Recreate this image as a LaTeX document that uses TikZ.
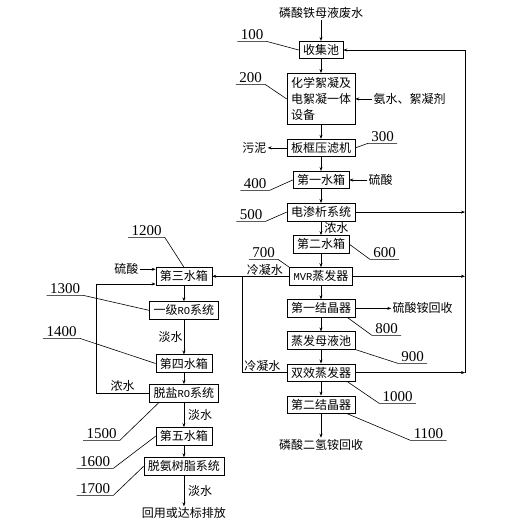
\documentclass[tikz,border=0pt]{standalone}
\usepackage{fontspec}
\setmainfont{Liberation Serif}
\setmonofont{Liberation Mono}
\newfontfamily\zh{Noto Sans CJK SC}
\usetikzlibrary{arrows.meta,positioning}
\newcommand\ltn[1]{{\ttfamily\fontsize{10.5}{12}\selectfont #1}}

\begin{document}
\begin{tikzpicture}[
  x=1pt, y=1pt,
  node distance=14pt,
  >={Stealth[length=4pt,width=3pt]},
  line width=0.6pt,
  box/.style={rectangle, draw=black, align=center, minimum height=17.5pt, inner xsep=4pt, inner ysep=2pt, font=\zh\fontsize{12}{16}\selectfont},
  txt/.style={inner sep=1pt, font=\zh\fontsize{12}{16}\selectfont},
  tag/.style={inner xsep=3pt, inner ysep=1pt, font=\fontsize{15}{16}\selectfont},
]
\useasboundingbox (0,0) rectangle (520,-523);
% main line
\node[box] (c100) at (321,-50) {收集池};
\node[box, below=of c100, align=left, inner ysep=4pt] (c200) {化学絮凝及\\电絮凝一体\\设备};
\node[box, below=of c200] (c300) {板框压滤机};
\node[box, below=of c300] (c400) {第一水箱};
\node[box, below=of c400] (c500) {电渗析系统};
\node[box, below=of c500] (c600) {第二水箱};
\node[box, below=of c600] (c700) {\ltn{MVR}蒸发器};
\node[box, below=of c700] (c800) {第一结晶器};
\node[box, below=of c800] (c900) {蒸发母液池};
\node[box, below=of c900] (c1000) {双效蒸发器};
\node[box, below=of c1000] (c1100) {第二结晶器};
% water line
\node[box, left=77pt of c700] (c1200) {第三水箱};
\node[box, below=16pt of c1200] (c1300) {一级\ltn{RO}系统};
\node[box, below=35pt of c1300] (c1400) {第四水箱};
\node[box, below=11.5pt of c1400] (c1500) {脱盐\ltn{RO}系统};
\node[box, below=25pt of c1500] (c1600) {第五水箱};
\node[box, below=12pt of c1600] (c1700) {脱氨树脂系统};
% in and out
\node[txt, above=21pt of c100] (src) {磷酸铁母液废水};
\node[txt, right=17pt of c200] (agent) {氨水、絮凝剂};
\node[txt, left=19pt of c300] (sludge) {污泥};
\node[txt, right=18pt of c400] (acid1) {硫酸};
\node[txt, right=36pt of c800] (amsulf) {硫酸铵回收};
\node[txt, below=24pt of c1100] (map) {磷酸二氢铵回收};
\node[txt, left=16pt of c1200.west, yshift=7pt] (acid2) {硫酸};
\node[txt, below=31pt of c1700] (reuse) {回用或达标排放};
\node[txt, above left=0pt and 5pt of c700.west] (lb700) {冷凝水};
\node[txt, above left=0pt and 5pt of c1000.west] (lb1000) {冷凝水};
\coordinate (ret) at (465,-50);
\coordinate (lft) at (96,-284);
\path (c700.west) ++(-47,0) coordinate (cond);

\draw[->] (src) -- (c100);
\draw[->] (c100) -- (c200);
\draw[->] (agent) -- (c200);
\draw[->] (c200) -- (c300);
\draw[->] (c300) -- (sludge);
\draw[->] (c300) -- (c400);
\draw[->] (acid1) -- (c400);
\draw[->] (c400) -- (c500);
\draw[->] (c500) -- node[txt, right, xshift=2pt] (lb500) {浓水} (c600);
\draw[->] (c600) -- (c700);
\draw[->] (c700) -- (c800);
\draw[->] (c800) -- (amsulf);
\draw[->] (c800) -- (c900);
\draw[->] (c900) -- (c1000);
\draw[->] (c1000) -- (c1100);
\draw[->] (c1100) -- (map);
\draw[->] (c500) -- (c500 -| ret);
\draw[->] (c700) -- (c700 -| ret);
\draw[->] (c1000) -- (c1000 -| ret);
\draw (c1000 -| ret) -- (ret);
\draw[->] (ret) -- (c100);
\draw[->] (c700) -- (c1200);
\draw (c1000) -| (cond);
\draw[->] (acid2) -- (acid2 -| c1200.west);
\draw[->] (c1200) -- (c1300);
\draw[->] (c1300) -- node[txt, left] (lb1300) {淡水} (c1400);
\draw[->] (c1400) -- (c1500);
\draw[->] (c1500) -| node[txt, pos=0.25, above] (lb1500) {浓水} (lft) -- (lft -| c1200.west);
\draw[->] (c1500) -- node[txt, right, xshift=3pt] (lb1600) {淡水} (c1600);
\draw[->] (c1600) -- (c1700);
\draw[->] (c1700) -- node[txt, right, xshift=3pt] (lb1700) {淡水} (reuse);

% part numbers
\node[tag] (t100) at (252,-35) {100};
\node[tag] (t200) at (250.5,-78) {200};
\node[tag] (t300) at (382.5,-137) {300};
\node[tag] (t400) at (255,-184) {400};
\node[tag] (t500) at (251,-215) {500};
\node[tag] (t600) at (384.5,-253) {600};
\node[tag] (t700) at (263.5,-253) {700};
\node[tag] (t800) at (386.5,-329) {800};
\node[tag] (t900) at (412.5,-357) {900};
\node[tag] (t1000) at (397.5,-397) {1000};
\node[tag] (t1100) at (428.5,-434) {1100};
\node[tag] (t1200) at (146.5,-231) {1200};
\node[tag] (t1300) at (65,-289) {1300};
\node[tag] (t1400) at (61.5,-332) {1400};
\node[tag] (t1500) at (101.5,-434) {1500};
\node[tag] (t1600) at (95,-462) {1600};
\node[tag] (t1700) at (95,-489) {1700};

\draw (t100.south west) -- (t100.south east) -- (c100.west);
\draw (t200.south west) -- (t200.south east) -- (c200.west);
\draw (t300.south east) -- (t300.south west) -- (c300.east);
\draw (t400.south west) -- (t400.south east) -- (c400.west);
\draw (t500.south west) -- (t500.south east) -- (c500.west);
\draw (t600.south east) -- (t600.south west) -- (c600.east);
\draw (t700.south west) -- (t700.south east) -- (c700.north west);
\draw (t800.south east) -- (t800.south west) -- ([xshift=-8pt]c800.south east);
\draw (t900.south east) -- (t900.south west) -- (c900.south east);
\draw (t1000.south east) -- (t1000.south west) -- ([xshift=-8pt]c1000.south east);
\draw (t1100.south east) -- (t1100.south west) -- ([xshift=-8pt]c1100.south east);
\draw (t1200.south west) -- (t1200.south east) -- (c1200.north);
\draw (t1300.south west) -- (t1300.south east) -- (c1300.west);
\draw (t1400.south west) -- (t1400.south east) -- (c1400.west);
\draw (t1500.south west) -- (t1500.south east) -- ([xshift=10pt]c1500.south west);
\draw (t1600.south west) -- (t1600.south east) -- (c1600.west);
\draw (t1700.south west) -- (t1700.south east) -- (c1700.west);
\end{tikzpicture}
\end{document}
